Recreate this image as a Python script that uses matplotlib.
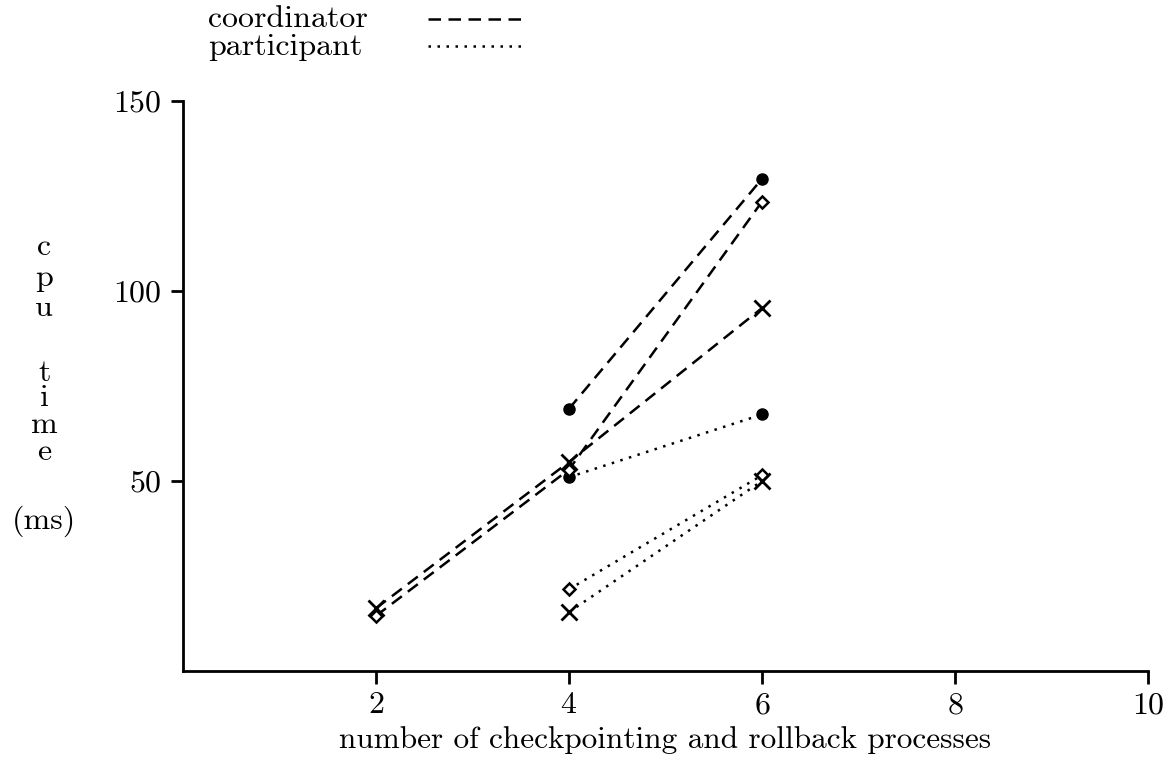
import matplotlib
matplotlib.use("Agg")
import matplotlib.pyplot as plt

plt.rcParams['font.family'] = ['cmr10', 'DejaVu Serif']
plt.rcParams['axes.formatter.use_mathtext'] = True

# processes on x axis
x_two = [2, 4, 6]
x_one = [4, 6]

# coordinator (dashed)
coord_dot = [69, 129.5]
coord_diamond = [14.5, 53, 123.5]
coord_cross = [16.5, 55, 95.5]

# participant (dotted)
part_dot = [51, 67.5]
part_diamond = [21.5, 51.5]
part_cross = [15.5, 50]

fs = 23
H = 770.0

fig = plt.figure(figsize=(11.69, 7.7), dpi=100)
ax = fig.add_axes([0.1565, 0.1286, 0.8255, 0.7402])

dash = (0, (5, 3))
dot = (0, (1, 2.6))
lw = 1.8

ax.plot(x_one, coord_dot, color='black', lw=lw, linestyle=dash)
ax.plot(x_two, coord_diamond, color='black', lw=lw, linestyle=dash)
ax.plot(x_two, coord_cross, color='black', lw=lw, linestyle=dash)
ax.plot(x_one, part_dot, color='black', lw=lw, linestyle=dot)
ax.plot(x_one, part_diamond, color='black', lw=lw, linestyle=dot)
ax.plot(x_one, part_cross, color='black', lw=lw, linestyle=dot)

# markers
for ys in (coord_dot, part_dot):
    ax.plot(x_one, ys, linestyle='none', marker='o', ms=8, color='black')
ax.plot(x_two, coord_diamond, linestyle='none', marker='D', ms=6.5, mfc='white', mec='black', mew=1.8)
ax.plot(x_one, part_diamond, linestyle='none', marker='D', ms=6.5, mfc='white', mec='black', mew=1.8)
ax.plot(x_two, coord_cross, linestyle='none', marker='x', ms=12, color='black', mew=2)
ax.plot(x_one, part_cross, linestyle='none', marker='x', ms=12, color='black', mew=2)

ax.set_xlim(0, 10)
ax.set_ylim(0, 150)
ax.set_xticks([2, 4, 6, 8, 10])
ax.set_yticks([50, 100, 150])
ax.spines['top'].set_visible(False)
ax.spines['right'].set_visible(False)
for s in ('left', 'bottom'):
    ax.spines[s].set_linewidth(2)
ax.tick_params(direction='out', length=9, width=2, labelsize=fs, pad=6)

ax.set_xlabel('number of checkpointing and rollback processes', fontsize=22.5, labelpad=5)

# vertical stacked y label (pixel rows from the top)
ylab = ['c', 'p', 'u', 't', 'i', 'm', 'e', '(ms)']
ylab_rows = [247, 278, 308, 373, 398, 425, 452, 521]
for ch, row in zip(ylab, ylab_rows):
    fig.text(0.038, 1 - row / H, ch, fontsize=fs, ha='center', va='center')

# legend drawn as text + line samples
fig.text(0.178, 0.975, 'coordinator', fontsize=fs, ha='left', va='center')
fig.text(0.178, 0.938, 'participant', fontsize=fs, ha='left', va='center')
fig.add_artist(plt.Line2D([0.366, 0.449], [0.975, 0.975], color='black', lw=lw, linestyle=dash))
fig.add_artist(plt.Line2D([0.366, 0.449], [0.940, 0.940], color='black', lw=lw, linestyle=dot))

fig.savefig('out.png', dpi=100)
